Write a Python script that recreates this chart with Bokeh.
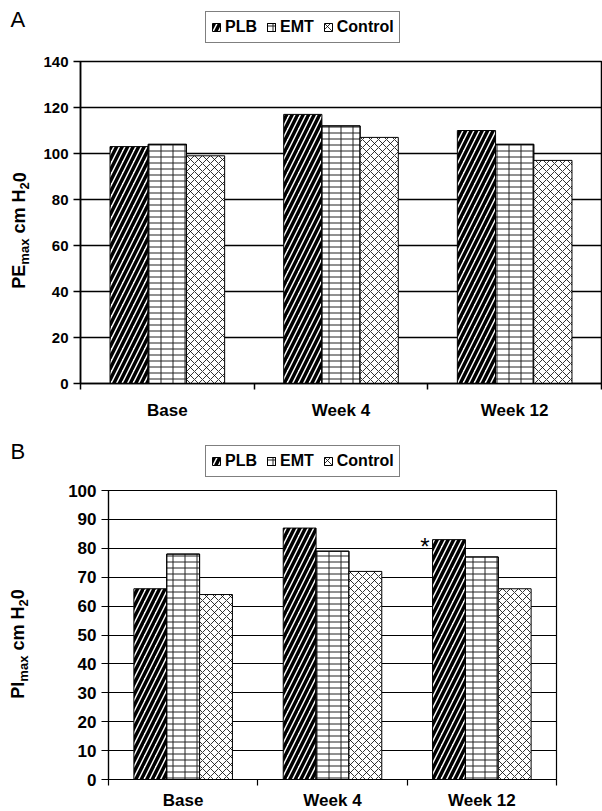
from math import pi

from bokeh.plotting import figure
from bokeh.models import (FactorRange, Range1d, LinearAxis, FixedTicker, ColumnDataSource,
                          Legend, LegendItem, Label)
from bokeh.transform import dodge
from bokeh.layouts import column, row
from bokeh.embed import file_html
from bokeh.resources import INLINE
from bokeh.core.properties import value

# ---------------- data ----------------
categories = ["Base", "Week 4", "Week 12"]
series = ["PLB", "EMT", "Control"]

pe_plb = [103, 117, 110]
pe_emt = [104, 112, 104]
pe_control = [99, 107, 97]

pi_plb = [66, 87, 83]
pi_emt = [78, 79, 77]
pi_control = [64, 72, 66]

pe_ticks = [0, 20, 40, 60, 80, 100, 120, 140]
pi_ticks = [0, 10, 20, 30, 40, 50, 60, 70, 80, 90, 100]

# significance marker (panel B): category, series
pi_marks_cat = ["Week 12"]
pi_marks_series = ["PLB"]

FONT = "Liberation Sans"
TOTAL_W = 602


def bar_layers(name):
    """Style layers for each series (overlaid layers build the brick-like texture)."""
    if name == "PLB":
        return [dict(fill_color="white", hatch_pattern="/", hatch_color="black",
                     hatch_weight=3.5, hatch_scale=11, line_color="black", line_width=1)]
    if name == "EMT":
        return [dict(fill_color="white", hatch_pattern="-", hatch_color="#222222",
                     hatch_weight=1, hatch_scale=6, line_color="black", line_width=1),
                dict(fill_color=None, hatch_pattern="|", hatch_color="#222222",
                     hatch_weight=1, hatch_scale=12, line_color="black", line_width=1)]
    return [dict(fill_color="white", hatch_pattern="x", hatch_color="black",
                 hatch_weight=0.8, hatch_scale=8, line_color="black", line_width=1)]


CHAR_W = {"P": .667, "E": .667, "I": .278, "m": .889, "a": .556, "x": .556, " ": .278,
          "c": .556, "H": .722, "2": .556, "0": .556}


def text_w(t, size):
    return sum(CHAR_W.get(ch, .556) for ch in t) * size


def pixel_fig(w, h):
    f = figure(x_range=Range1d(0, w), y_range=Range1d(0, h), frame_width=w, frame_height=h,
               x_axis_type=None, y_axis_type=None, min_border=0,
               output_backend="svg", toolbar_location=None,
               background_fill_color="white", border_fill_color="white")
    f.outline_line_color = None
    return f


def header(letter, h, legend_loc, letter_xy):
    f = pixel_fig(TOTAL_W, h)
    dummy = ColumnDataSource(dict(x=[-1000], top=[0]))
    items = []
    for s in series:
        rs = [f.vbar(x="x", top="top", width=1, source=dummy, **st) for st in bar_layers(s)]
        items.append(LegendItem(label=s, renderers=rs))
    legend = Legend(items=items, orientation="horizontal", location=legend_loc,
                    glyph_width=10, glyph_height=10, label_standoff=4, spacing=9,
                    padding=5, margin=0, label_height=20,
                    label_text_font=FONT, label_text_font_style="bold",
                    label_text_font_size="16px", label_text_color="black",
                    border_line_color="black", border_line_width=1.5,
                    background_fill_color="white", background_fill_alpha=1)
    f.add_layout(legend)
    f.add_layout(Label(x=letter_xy[0], y=letter_xy[1], text=letter, text_font=FONT,
                       text_font_size="22px", text_color="black",
                       text_align="left", text_baseline="middle"))
    return f


def ytitle(lead, w, h, cy, bx):
    f = pixel_fig(w, h)
    big, small, drop = 18, 13, 5.5
    parts = [(lead, big, 0, 0), ("max", small, drop, 0), ("cm H", big, 0, text_w(" ", big)),
             ("2", small, drop, 0), ("0", big, 0, 0)]
    total = sum(pre + text_w(t, s) for t, s, d, pre in parts)
    pos = cy - total / 2
    for t, s, d, pre in parts:
        pos += pre
        f.add_layout(Label(x=bx + d, y=pos, text=t, angle=pi / 2, text_font=FONT,
                           text_font_size=f"{s}px", text_font_style="bold",
                           text_color="black", text_align="left",
                           text_baseline="middle"))
        pos += text_w(t, s)
    return f


def main_plot(vals, ticks, g, marks=None):
    ymax = ticks[-1]
    p = figure(x_range=FactorRange(*categories), y_range=Range1d(0, ymax),
               x_axis_type=None, output_backend="svg", toolbar_location=None,
               frame_width=g["fw"], frame_height=g["fh"],
               min_border_left=g["left"], min_border_right=g["right"],
               min_border_top=g["top"], min_border_bottom=g["bottom"],
               background_fill_color="white", border_fill_color="white")
    p.outline_line_color = "black"
    p.outline_line_width = g["lw"]

    yt = FixedTicker(ticks=ticks)
    p.yaxis.ticker = yt
    p.ygrid.ticker = yt
    p.ygrid.grid_line_color = "black"
    p.ygrid.grid_line_width = g["lw"]
    ax = p.yaxis[0]
    ax.axis_line_color = "black"
    ax.axis_line_width = g["lw"]
    ax.major_tick_in = 0
    ax.major_tick_out = 7
    ax.major_tick_line_color = "black"
    ax.major_tick_line_width = g["lw"]
    ax.minor_tick_line_color = None
    ax.major_label_standoff = 5
    ax.major_label_text_font = FONT
    ax.major_label_text_font_style = "bold"
    ax.major_label_text_font_size = g["tick_fs"]
    ax.major_label_text_color = "black"

    centers = [i + 0.5 for i in range(len(categories))]
    xa = LinearAxis(ticker=FixedTicker(ticks=centers, minor_ticks=list(range(len(categories) + 1))),
                    major_label_overrides={c: lab for c, lab in zip(centers, categories)},
                    axis_line_color="black", axis_line_width=g["lw"],
                    major_tick_line_color=None, major_tick_in=0, major_tick_out=0,
                    minor_tick_in=0, minor_tick_out=6, minor_tick_line_color="black",
                    minor_tick_line_width=g["lw"],
                    major_label_standoff=g["cat_standoff"],
                    major_label_text_font=FONT, major_label_text_font_style="bold",
                    major_label_text_font_size=g["cat_fs"], major_label_text_color="black")
    p.add_layout(xa, "below")

    src = ColumnDataSource(dict(cat=categories, PLB=vals[0], EMT=vals[1], Control=vals[2]))
    bw = 0.22
    offs = {"PLB": -bw, "EMT": 0, "Control": bw}
    for s in series:
        for st in bar_layers(s):
            p.vbar(x=dodge("cat", offs[s], range=p.x_range), top=s, width=bw, source=src, **st)

    if marks:
        mcat, mser = marks
        msrc = ColumnDataSource(dict(
            cat=mcat,
            y=[dict(zip(categories, vals[series.index(s)]))[c] for c, s in zip(mcat, mser)],
            t=["*"] * len(mcat)))
        p.text(x=dodge("cat", -bw * 1.5, range=p.x_range), y="y", text="t", source=msrc,
               text_align="right", text_baseline="middle", x_offset=-3, y_offset=7,
               text_font=value(FONT), text_font_size=value("24px"), text_color="black")
    return p


LW = 34  # width of the y-title strip

# ---- panel A ----  (page coordinates: frame x 80..601, y 61..383)
gA = dict(fw=521, fh=322, left=80 - LW, right=1, top=10, bottom=55, lw=1.5,
          tick_fs="15px", cat_fs="17px", cat_standoff=11)
hA = header("A", 51, (205, 8), (10, 32))
pA = main_plot([pe_plb, pe_emt, pe_control], pe_ticks, gA)
lA = ytitle("PE", LW, 10 + 322 + 55, 218, 18.5)

# ---- panel B ----  (page coordinates: frame x 108..556, y 490..779)
gB = dict(fw=448, fh=289, left=108 - LW, right=46, top=10, bottom=31, lw=1.2,
          tick_fs="17px", cat_fs="17px", cat_standoff=5)
hB = header("B", 42, (205, 3), (10, 29))
pB = main_plot([pi_plb, pi_emt, pi_control], pi_ticks, gB,
               marks=(pi_marks_cat, pi_marks_series))
lB = ytitle("PI", LW, 10 + 289 + 31, 176.5, 17)

layout = column(hA, row(lA, pA, spacing=0), hB, row(lB, pB, spacing=0), spacing=0)
open("out.html", "w").write(file_html(layout, INLINE))
